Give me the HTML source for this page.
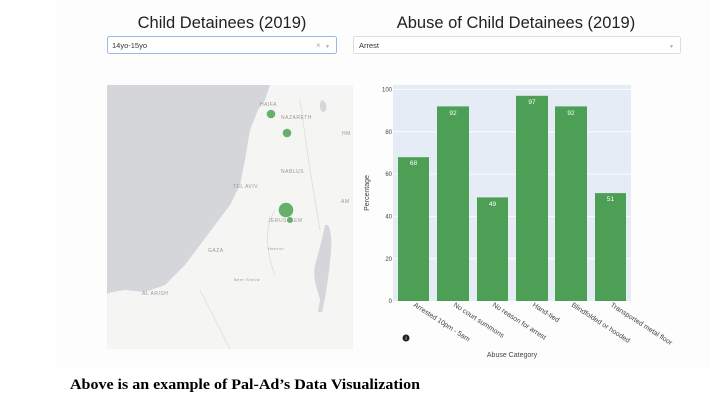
<!DOCTYPE html>
<html><head><meta charset="utf-8"><style>
html,body{margin:0;padding:0;background:#fff;width:710px;height:416px;overflow:hidden}
</style></head><body>
<svg width="710" height="416" viewBox="0 0 710 416" xmlns="http://www.w3.org/2000/svg" font-family="Liberation Sans, DejaVu Sans, sans-serif">
<rect x="55" y="0" width="657" height="368" fill="#fdfdfd"/>
<text x="222" y="28" font-size="16.5" text-anchor="middle" fill="#222">Child Detainees (2019)</text>
<text x="516" y="28" font-size="16.5" text-anchor="middle" fill="#222">Abuse of Child Detainees (2019)</text>
<rect x="107.5" y="36.5" width="229" height="17" rx="2" fill="#fff" stroke="#9ab8e8"/>
<text x="112" y="48" font-size="7.5" fill="#333">14yo-15yo</text>
<text x="316" y="48" font-size="8" fill="#aaa">×</text>
<text x="326" y="48" font-size="6" fill="#aaa">▾</text>
<rect x="353.5" y="36.5" width="327" height="17" rx="2" fill="#fff" stroke="#ddd"/>
<text x="359" y="48" font-size="7.5" fill="#333">Arrest</text>
<text x="670" y="48" font-size="6" fill="#aaa">▾</text>
<!-- map -->
<rect x="107" y="85" width="246" height="264" fill="#f5f5f4"/>
<path d="M107,85 L270,85 L265,100 L258,110 L250,130 L245,160 L240,185 L230,205 L215,225 L200,245 L185,265 L165,285 L145,292 L125,290 L112,292 L107,294 Z" fill="#d4d6d9"/>
<path d="M325,225 C322,240 318,255 315,265 C312,280 318,290 320,300 L318,312 L322,312 C326,295 328,280 330,262 C332,245 332,232 328,225 Z" fill="#d4d6d9"/>
<path d="M322,100 C318,104 320,112 324,112 C328,110 327,102 322,100 Z" fill="#d4d6d9"/>
<path d="M275,275 C265,250 265,225 275,210 M300,100 L310,170 L320,230 M200,290 L230,349" stroke="#e8d8d8" fill="none" stroke-width="0.8"/>
<g font-size="5" fill="#999" letter-spacing="0.5">
<text x="260" y="106">HAIFA</text><text x="281" y="119">NAZARETH</text><text x="281" y="173">NABLUS</text>
<text x="233" y="188">TEL AVIV</text><text x="268" y="222">JERUSALEM</text><text x="208" y="252">GAZA</text>
<text x="142" y="295">AL ARISH</text><text x="341" y="203">AM</text><text x="342" y="135">HM</text>
<text x="268" y="250" font-size="4">Hebron</text><text x="234" y="281" font-size="4">Beer Sheva</text>
</g>
<g fill="#5aa85e" opacity="0.9">
<circle cx="271" cy="114" r="4.3"/><circle cx="287" cy="133" r="4.3"/><circle cx="286" cy="210" r="7.3"/><circle cx="290" cy="220" r="3"/>
</g>
<!-- bar chart -->
<rect x="393" y="85" width="238" height="216" fill="#e5ecf6"/>
<g stroke="#fff" stroke-width="0.8">
<line x1="393" x2="631" y1="89.5" y2="89.5"/><line x1="393" x2="631" y1="131.8" y2="131.8"/><line x1="393" x2="631" y1="174.1" y2="174.1"/><line x1="393" x2="631" y1="216.4" y2="216.4"/><line x1="393" x2="631" y1="258.7" y2="258.7"/>
</g>
<g fill="#4c9f54">
<rect x="398" y="157.2" width="31" height="143.8"/>
<rect x="437" y="106.4" width="32" height="194.6"/>
<rect x="477" y="197.4" width="31" height="103.6"/>
<rect x="516" y="95.8" width="32" height="205.2"/>
<rect x="555" y="106.4" width="32" height="194.6"/>
<rect x="595" y="193.1" width="31" height="107.9"/>
</g>
<g font-size="6.5" fill="#fff" text-anchor="middle">
<text x="413.5" y="165">68</text><text x="453" y="115">92</text><text x="492.5" y="206">49</text>
<text x="532" y="104">97</text><text x="571" y="115">92</text><text x="610.5" y="201">51</text>
</g>
<g font-size="6" fill="#444" text-anchor="end">
<text x="392" y="91.5">100</text><text x="392" y="134">80</text><text x="392" y="176">60</text><text x="392" y="218.5">40</text><text x="392" y="261">20</text><text x="392" y="303">0</text>
</g>
<text transform="translate(369,193) rotate(-90)" font-size="7" fill="#444" text-anchor="middle">Percentage</text>
<g font-size="7" fill="#444">
<text transform="translate(413,306) rotate(33)">Arrested 10pm - 5am</text>
<text transform="translate(453,306) rotate(33)">No court summons</text>
<text transform="translate(492,306) rotate(33)">No reason for arrest</text>
<text transform="translate(532,306) rotate(33)">Hand-tied</text>
<text transform="translate(571,306) rotate(33)">Blindfolded or hooded</text>
<text transform="translate(610,306) rotate(33)">Transported metal floor</text>
</g>
<circle cx="406" cy="338" r="3.5" fill="#222"/><text x="406" y="340" font-size="5" fill="#fff" text-anchor="middle">i</text>
<text x="512" y="357" font-size="7" fill="#444" text-anchor="middle">Abuse Category</text>
<text x="70" y="389" font-family="Liberation Serif, serif" font-weight="bold" font-size="15" textLength="350" lengthAdjust="spacingAndGlyphs" fill="#000">Above is an example of Pal-Ad’s Data Visualization</text>
</svg>
</body></html>
